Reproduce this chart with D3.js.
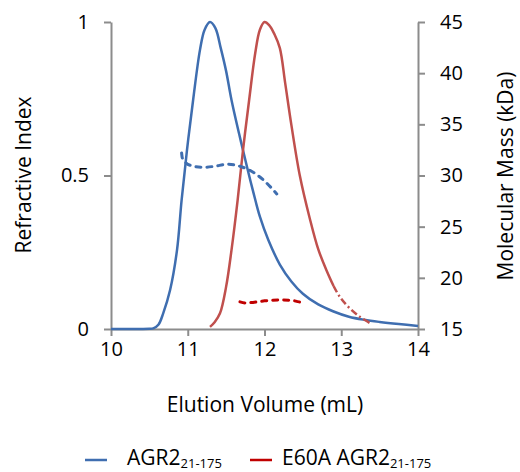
<!DOCTYPE html>
<html>
<head>
<meta charset="utf-8">
<script src="https://cdn.jsdelivr.net/npm/d3@7"></script>
<style>
  body { margin: 0; background: #fff; }
  svg { font-family: "Open Sans", sans-serif; }
</style>
</head>
<body>
<div id="chart"></div>
<script>
// refractive index, AGR2 21-175
const wtVolume = [10.0, 10.3, 10.5, 10.55, 10.62, 10.68, 10.77, 10.86, 10.92, 10.99, 11.07, 11.16, 11.22, 11.29, 11.36, 11.43, 11.5, 11.57, 11.67, 11.77, 11.85, 11.94, 12.05, 12.2, 12.35, 12.5, 12.7, 12.9, 13.1, 13.3, 13.5, 13.75, 14.0];
const wtRI = [0, 0, 0.0005, 0.002, 0.015, 0.051, 0.127, 0.257, 0.42, 0.583, 0.746, 0.91, 0.975, 1.0, 0.98, 0.915, 0.84, 0.746, 0.635, 0.53, 0.45, 0.366, 0.29, 0.21, 0.155, 0.115, 0.08, 0.057, 0.04, 0.03, 0.023, 0.016, 0.01];

// refractive index, E60A AGR2 21-175
const mutVolume = [11.29, 11.35, 11.42, 11.5, 11.57, 11.65, 11.72, 11.8, 11.88, 11.94, 12.0, 12.06, 12.13, 12.2, 12.27, 12.35, 12.46, 12.59, 12.7, 12.81, 12.9, 12.98, 13.1, 13.24, 13.37];
const mutRI = [0.007, 0.022, 0.051, 0.138, 0.257, 0.42, 0.583, 0.746, 0.9, 0.975, 1.0, 0.99, 0.96, 0.915, 0.8, 0.665, 0.5, 0.36, 0.26, 0.19, 0.14, 0.105, 0.07, 0.04, 0.02];

// molecular mass (kDa)
const wtMassVolume = [10.92, 10.93, 11.03, 11.2, 11.35, 11.51, 11.68, 11.81, 11.98, 12.16];
const wtMass = [32.2, 31.7, 31.0, 30.8, 30.9, 31.1, 30.9, 30.5, 29.6, 28.2];
const mutMassVolume = [11.68, 11.75, 11.85, 12.0, 12.2, 12.35, 12.45, 12.53];
const mutMass = [17.65, 17.55, 17.6, 17.75, 17.83, 17.8, 17.65, 17.6];

const xTicks = [10, 11, 12, 13, 14];
const riTicks = [0, 0.5, 1];
const massTicks = [15, 20, 25, 30, 35, 40, 45];

const blue = "#3F6EB0";
const red = "#C0504D";
const darkRed = "#C00000";
const axisGrey = "#8C8C8C";

const width = 520, height = 472;

const svg = d3.select("#chart")
  .append("svg")
  .attr("width", width)
  .attr("height", height);

const x = d3.scaleLinear().domain([10, 14]).range([111, 418]);
const yRI = d3.scaleLinear().domain([0, 1]).range([329, 22]);
const yMass = d3.scaleLinear().domain([15, 45]).range([329, 22]);

function styleAxis(g) {
  g.select(".domain").attr("stroke", axisGrey).attr("stroke-width", 2);
  g.selectAll(".tick line").attr("stroke", axisGrey).attr("stroke-width", 2);
  g.selectAll(".tick text").attr("fill", "#000").style("font-size", "20px")
    .style("font-family", "'Open Sans', sans-serif");
}

svg.append("g")
  .attr("transform", "translate(0,329)")
  .call(d3.axisBottom(x).tickValues(xTicks).tickSize(7).tickSizeOuter(0).tickPadding(6).tickFormat(d3.format("d")))
  .call(styleAxis);

svg.append("g")
  .attr("transform", "translate(111,0)")
  .call(d3.axisLeft(yRI).tickValues(riTicks).tickSize(7).tickSizeOuter(0).tickPadding(15).tickFormat(d => d === 0.5 ? "0.5" : d3.format("d")(d)))
  .call(styleAxis);

svg.append("g")
  .attr("transform", "translate(418,0)")
  .call(d3.axisRight(yMass).tickValues(massTicks).tickSize(7).tickSizeOuter(0).tickPadding(15).tickFormat(d3.format("d")))
  .call(styleAxis);

const riLine = d3.line()
  .x(d => x(d[0]))
  .y(d => yRI(d[1]))
  .curve(d3.curveCatmullRom.alpha(0.5));

const massLine = d3.line()
  .x(d => x(d[0]))
  .y(d => yMass(d[1]))
  .curve(d3.curveMonotoneX);

const wtData = d3.zip(wtVolume, wtRI);
const mutData = d3.zip(mutVolume, mutRI);

svg.append("path")
  .datum(wtData)
  .attr("d", riLine)
  .attr("fill", "none")
  .attr("stroke", blue)
  .attr("stroke-width", 2.5);

// red trace: solid part, then a broken tail
svg.append("path")
  .datum(mutData.filter(d => d[0] <= 12.9))
  .attr("d", riLine)
  .attr("fill", "none")
  .attr("stroke", red)
  .attr("stroke-width", 2.5);

svg.append("path")
  .datum(mutData.filter(d => d[0] >= 12.9))
  .attr("d", riLine)
  .attr("fill", "none")
  .attr("stroke", red)
  .attr("stroke-width", 2.5)
  .attr("stroke-dasharray", "7,3,2,3");

svg.append("path")
  .datum(d3.zip(wtMassVolume, wtMass))
  .attr("d", massLine)
  .attr("fill", "none")
  .attr("stroke", blue)
  .attr("stroke-width", 3)
  .attr("stroke-linecap", "round")
  .attr("stroke-dasharray", "5,6");

svg.append("path")
  .datum(d3.zip(mutMassVolume, mutMass))
  .attr("d", massLine)
  .attr("fill", "none")
  .attr("stroke", darkRed)
  .attr("stroke-width", 3)
  .attr("stroke-linecap", "round")
  .attr("stroke-dasharray", "5,6");

// axis titles
svg.append("text")
  .attr("x", 265)
  .attr("y", 412)
  .attr("text-anchor", "middle")
  .style("font-size", "21px")
  .text("Elution Volume (mL)");

svg.append("text")
  .attr("transform", "translate(31,175) rotate(-90)")
  .attr("text-anchor", "middle")
  .style("font-size", "21px")
  .text("Refractive Index");

svg.append("text")
  .attr("transform", "translate(513,176) rotate(-90)")
  .attr("text-anchor", "middle")
  .style("font-size", "21px")
  .text("Molecular Mass (kDa)");

// legend
const legendItems = [
  { name: "AGR2", color: blue, x: 85, textX: 42 },
  { name: "E60A AGR2", color: darkRed, x: 250, textX: 32 }
];

const legend = svg.selectAll(".legend")
  .data(legendItems)
  .enter()
  .append("g")
  .attr("class", "legend")
  .attr("transform", d => `translate(${d.x},460)`);

legend.append("line")
  .attr("x1", 0).attr("x2", 22)
  .attr("stroke", d => d.color)
  .attr("stroke-width", 2.5);

const label = legend.append("text")
  .attr("x", d => d.textX)
  .attr("y", 5)
  .style("font-size", "21px");

label.append("tspan").text(d => d.name);
label.append("tspan")
  .attr("dy", 3)
  .style("font-size", "13px")
  .text("21-175");
</script>
</body>
</html>
